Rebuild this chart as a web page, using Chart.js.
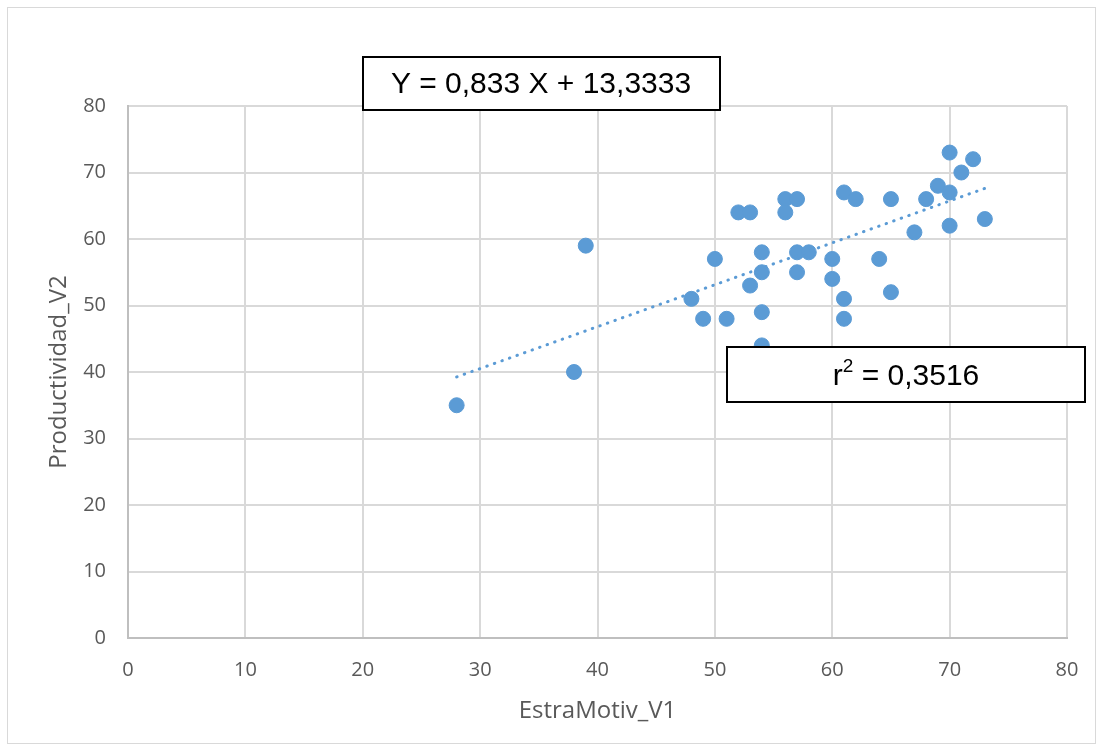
<!DOCTYPE html>
<html>
<head>
<meta charset="utf-8">
<script src="https://cdn.jsdelivr.net/npm/chart.js@4"></script>
<style>
  html, body { margin: 0; padding: 0; background: #fff; }
  #wrap { width: 1103px; height: 751px; }
</style>
</head>
<body>
<div id="wrap"><canvas id="myChart" width="1103" height="751"></canvas></div>
<script>
// EstraMotiv_V1 (x) against Productividad_V2 (y)
let estraMotiv = [28, 38, 39, 48, 49, 50, 51, 52, 53, 53, 54, 54, 54, 54, 56, 56, 57, 57, 57, 58,
                  60, 60, 61, 61, 61, 62, 64, 65, 65, 67, 68, 69, 70, 70, 70, 71, 72, 73];
let productividad = [35, 40, 59, 51, 48, 57, 48, 64, 64, 53, 58, 55, 49, 44, 66, 64, 66, 58, 55, 58,
                     57, 54, 67, 51, 48, 66, 57, 66, 52, 61, 66, 68, 73, 67, 62, 70, 72, 63];

let xTicks = [0, 10, 20, 30, 40, 50, 60, 70, 80];
let yTicks = [0, 10, 20, 30, 40, 50, 60, 70, 80];

let equationText = 'Y = 0,833 X + 13,3333';
let r2Value = ' = 0,3516';

let points = [];
for (let i = 0; i < estraMotiv.length; i++) {
    points.push({ x: estraMotiv[i], y: productividad[i] });
}

// least squares trend line, like the Excel one
function trendLine() {
    let n = estraMotiv.length;
    let sx = 0, sy = 0, sxy = 0, sxx = 0;
    for (let i = 0; i < n; i++) {
        sx += estraMotiv[i];
        sy += productividad[i];
        sxy += estraMotiv[i] * productividad[i];
        sxx += estraMotiv[i] * estraMotiv[i];
    }
    let b = (n * sxy - sx * sy) / (n * sxx - sx * sx);
    let a = (sy - b * sx) / n;
    let x0 = Math.min(...estraMotiv);
    let x1 = Math.max(...estraMotiv);
    return [{ x: x0, y: a + b * x0 }, { x: x1, y: a + b * x1 }];
}

const blue = '#5b9bd5';
const tickFont = { family: 'Open Sans', size: 20 };
const titleFont = { family: 'Open Sans', size: 24 };
const boxFont = '30px "Liberation Sans"';
const supFont = '19px "Liberation Sans"';

const boxes = {
    id: 'boxes',
    beforeDraw(chart) {
        const c = chart.ctx;
        c.save();
        c.fillStyle = '#fff';
        c.fillRect(0, 0, chart.width, chart.height);
        c.strokeStyle = '#d9d9d9';
        c.lineWidth = 1;
        c.strokeRect(7.5, 7.5, 1088, 736);
        c.restore();
    },
    afterDraw(chart) {
        const c = chart.ctx;
        c.save();
        c.lineWidth = 2;
        c.strokeStyle = '#000';
        c.fillStyle = '#fff';
        // equation box
        c.fillRect(363, 57, 357, 53);
        c.strokeRect(363, 57, 357, 53);
        c.fillStyle = '#000';
        c.font = boxFont;
        c.textAlign = 'center';
        c.textBaseline = 'middle';
        c.fillText(equationText, 541, 85);
        // r2 box
        c.fillStyle = '#fff';
        c.fillRect(727, 347, 358, 55);
        c.strokeRect(727, 347, 358, 55);
        c.fillStyle = '#000';
        c.textAlign = 'left';
        c.font = boxFont;
        let w1 = c.measureText('r').width;
        c.font = supFont;
        let w2 = c.measureText('2').width;
        c.font = boxFont;
        let w3 = c.measureText(r2Value).width;
        let x = 906 - (w1 + w2 + w3) / 2;
        c.fillText('r', x, 377);
        c.font = supFont;
        c.fillText('2', x + w1, 367);
        c.font = boxFont;
        c.fillText(r2Value, x + w1 + w2, 377);
        c.restore();
    }
};

function renderChart() {
    const ctx = document.getElementById('myChart');

    new Chart(ctx, {
        type: 'scatter',
        data: {
            datasets: [{
                label: 'tendencia',
                type: 'line',
                data: trendLine(),
                borderColor: blue,
                borderWidth: 3,
                borderDash: [0.5, 7.5],
                borderCapStyle: 'round',
                pointRadius: 0,
                fill: false,
                order: 0
            }, {
                label: 'Productividad_V2',
                data: points,
                backgroundColor: blue,
                borderColor: blue,
                pointRadius: 7.5,
                pointHoverRadius: 7.5,
                order: 1
            }]
        },
        options: {
            responsive: false,
            animation: false,
            events: [],
            layout: { padding: { top: 106, right: 36, left: 0, bottom: 0 } },
            plugins: {
                legend: { display: false },
                tooltip: { enabled: false }
            },
            scales: {
                x: {
                    type: 'linear',
                    min: 0,
                    max: 80,
                    afterBuildTicks: s => { s.ticks = xTicks.map(v => ({ value: v })); },
                    afterFit: s => { s.height = 113; },
                    grid: { color: '#d9d9d9', lineWidth: 2, drawTicks: false },
                    border: { color: '#bfbfbf', width: 2 },
                    ticks: { color: '#595959', font: tickFont, padding: 20 },
                    title: {
                        display: true,
                        text: 'EstraMotiv_V1',
                        color: '#595959',
                        font: titleFont,
                        padding: { top: 4, bottom: 25 }
                    }
                },
                y: {
                    type: 'linear',
                    min: 0,
                    max: 80,
                    afterBuildTicks: s => { s.ticks = yTicks.map(v => ({ value: v })); },
                    afterFit: s => { s.width = 128; },
                    grid: { color: '#d9d9d9', lineWidth: 2, drawTicks: false },
                    border: { color: '#bfbfbf', width: 2 },
                    ticks: { color: '#595959', font: tickFont, padding: 22 },
                    title: {
                        display: true,
                        text: 'Productividad_V2',
                        color: '#595959',
                        font: titleFont,
                        padding: { top: 45, bottom: 0 }
                    }
                }
            }
        },
        plugins: [boxes]
    });
}

renderChart();
</script>
</body>
</html>
